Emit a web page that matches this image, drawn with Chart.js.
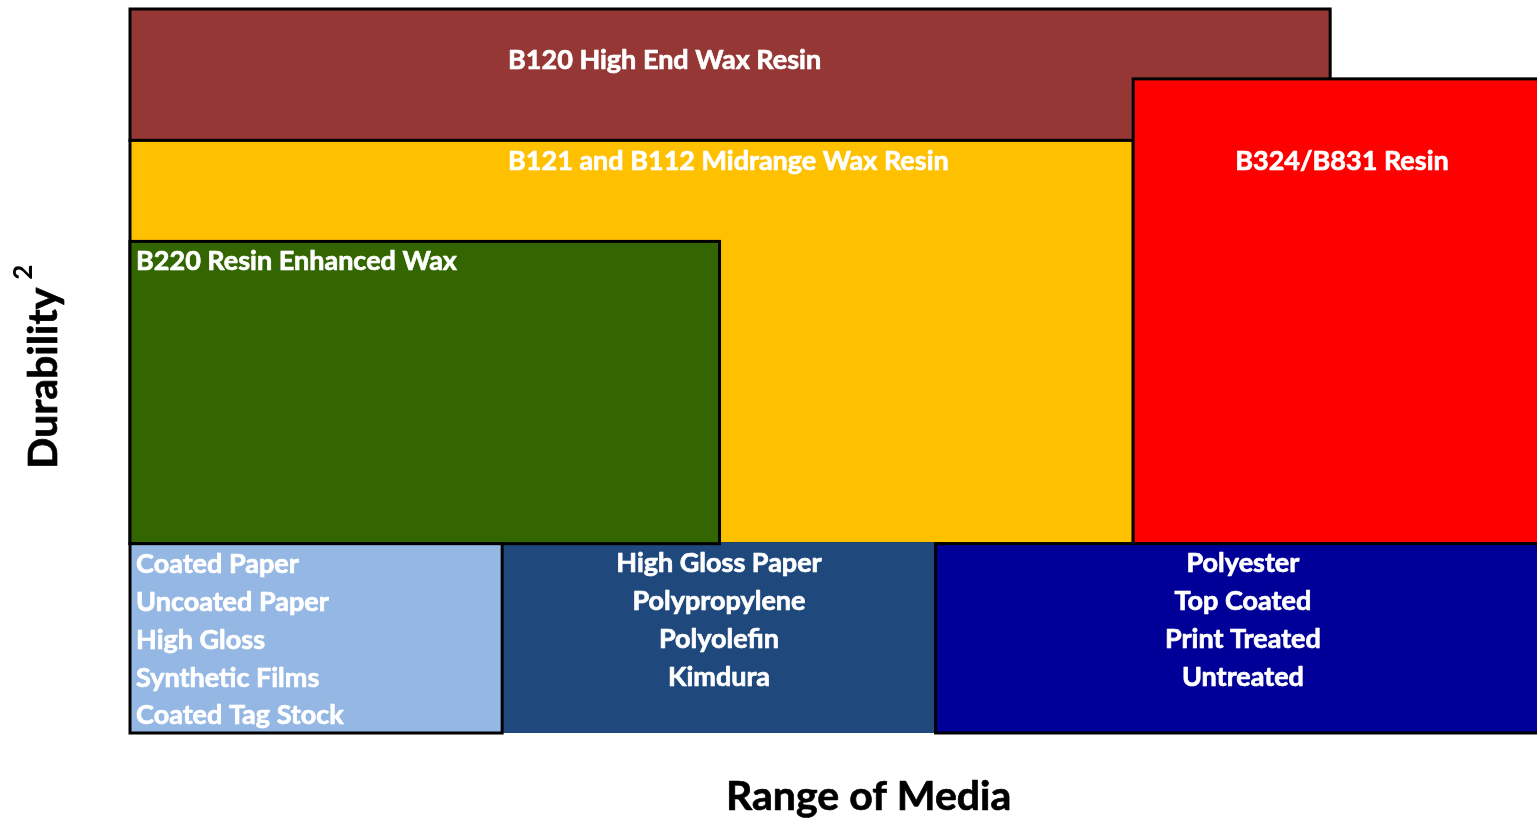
<!DOCTYPE html>
<html><head><meta charset="utf-8">
<script src="https://cdn.jsdelivr.net/npm/chart.js@4"></script>
<style>html,body{margin:0;padding:0;background:#fff;overflow:hidden}</style>
</head><body>
<canvas id="c" width="1537" height="819"></canvas>
<script>
// ---- data (box extents in chart units: x = range of media, y = durability) ----
const boxNames = ['B120 High End Wax Resin', 'B121 and B112 Midrange Wax Resin', 'B324/B831 Resin', 'Mid-range media', 'B220 Resin Enhanced Wax', 'Basic media', 'Premium media'];
const xStart = [0, 0, 71.3, 26.45, 0, 0, 57.25];
const xEnd   = [85.3, 71.3, 102, 57.25, 41.9, 26.45, 102];
const yStart = [81.85, 26.15, 26.15, 0, 26.15, 0, 0];
const yEnd   = [100, 81.85, 90.35, 26.15, 67.9, 26.15, 26.15];
const mediaBasic = ['Coated Paper', 'Uncoated Paper', 'High Gloss', 'Synthetic Films', 'Coated Tag Stock'];
const mediaMid = ['High Gloss Paper', 'Polypropylene', 'Polyolefin', 'Kimdura'];
const mediaPremium = ['Polyester', 'Top Coated', 'Print Treated', 'Untreated'];
const xTitle = 'Range of Media';
const yTitle = 'Durability';
const yTitleSup = '2';

// ---- styles ----
const fills = ['#953735', '#FFC000', '#FF0000', '#1F497D', '#336600', '#95B7E3', '#000099'];
const bordered = [true, true, true, false, true, true, true];
const labelFont = 'bold 27px Lato';
const titleFont = 'bold 41px Lato';
const supFont = 'bold 26px Lato';

// label anchors in chart units (x, baseline y, align)
const headerPos = [
  {x: 26.87, y: 91.71, align: 'left'},
  {x: 26.87, y: 77.76, align: 'left'},
  {x: 86.14, y: 77.76, align: 'center'},
  null,
  {x: 0.43, y: 63.95, align: 'left'}
];
const listPos = [
  {items: mediaBasic, x: 0.43, y0: 22.06, step: 5.215, align: 'left'},
  {items: mediaMid, x: 41.86, y0: 22.2, step: 5.24, align: 'center'},
  {items: mediaPremium, x: 79.1, y0: 22.3, step: 5.29, align: 'center'}
];

function boldText(ctx, t, px, py, color) {
  ctx.fillStyle = color;
  ctx.strokeStyle = color;
  ctx.lineWidth = 0.7;
  ctx.lineJoin = 'round';
  ctx.fillText(t, px, py);
  ctx.strokeText(t, px, py);
}

const boxPlugin = {
  id: 'boxes',
  afterDraw(chart) {
    const {ctx, scales: {x, y}} = chart;
    ctx.save();
    for (let i = 0; i < boxNames.length; i++) {
      const x0 = x.getPixelForValue(xStart[i]), x1 = x.getPixelForValue(xEnd[i]);
      const y0 = y.getPixelForValue(yEnd[i]), y1 = y.getPixelForValue(yStart[i]);
      ctx.fillStyle = fills[i];
      if (bordered[i]) {
        ctx.fillRect(x0, y0, x1 - x0, y1 - y0);
        ctx.lineWidth = 3;
        ctx.strokeStyle = '#000';
        ctx.strokeRect(x0, y0, x1 - x0, y1 - y0);
      } else {
        ctx.fillRect(x0, y0 - 1.5, x1 - x0, y1 - y0 + 1.5);
      }
    }
    ctx.font = labelFont;
    ctx.textBaseline = 'alphabetic';
    headerPos.forEach((p, i) => {
      if (!p) return;
      ctx.textAlign = p.align;
      boldText(ctx, boxNames[i], x.getPixelForValue(p.x), y.getPixelForValue(p.y), '#fff');
    });
    listPos.forEach(l => {
      ctx.textAlign = l.align;
      l.items.forEach((t, k) => {
        boldText(ctx, t, x.getPixelForValue(l.x), y.getPixelForValue(l.y0 - k * l.step), '#fff');
      });
    });
    // axis titles
    ctx.font = titleFont;
    ctx.textAlign = 'center';
    boldText(ctx, xTitle, x.getPixelForValue(52.5), y.getPixelForValue(-10.7), '#000');
    ctx.save();
    ctx.translate(57, y.getPixelForValue(49.0));
    ctx.rotate(-Math.PI / 2);
    ctx.textAlign = 'center';
    boldText(ctx, yTitle, 0, 0, '#000');
    const w = ctx.measureText(yTitle).width;
    ctx.font = supFont;
    ctx.textAlign = 'left';
    ctx.fillStyle = '#000';
    ctx.fillText(yTitleSup, w / 2 + 8, -25);
    ctx.restore();
    ctx.restore();
  }
};

new Chart(document.getElementById('c'), {
  type: 'scatter',
  data: {datasets: []},
  options: {
    responsive: false,
    animation: false,
    layout: {padding: {left: 130, right: 0, top: 9, bottom: 86}},
    scales: {
      x: {type: 'linear', min: 0, max: 100, display: false},
      y: {type: 'linear', min: 0, max: 100, display: false}
    },
    plugins: {legend: {display: false}, tooltip: {enabled: false}}
  },
  plugins: [boxPlugin]
});
</script>
</body></html>
